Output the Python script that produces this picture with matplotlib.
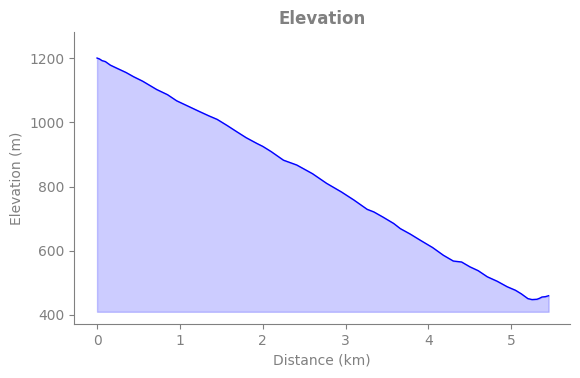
import matplotlib
matplotlib.use("Agg")
import matplotlib.pyplot as plt

# distance (km) and elevation (m)
dist = [0.0, 0.03, 0.06, 0.1, 0.16, 0.25, 0.35, 0.44, 0.55, 0.72, 0.85, 0.96,
        1.1, 1.24, 1.35, 1.45, 1.57, 1.69, 1.8, 1.93, 2.0, 2.1, 2.25, 2.41,
        2.6, 2.77, 2.95, 3.1, 3.26, 3.34, 3.45, 3.58, 3.66, 3.78, 3.9, 4.05,
        4.18, 4.3, 4.4, 4.5, 4.6, 4.71, 4.83, 4.95, 5.05, 5.12, 5.2, 5.25,
        5.31, 5.34, 5.37, 5.41, 5.45]
elev = [1200, 1197, 1192, 1189, 1178, 1167, 1155, 1142, 1128, 1102, 1086, 1067,
        1050, 1033, 1020, 1009, 990, 970, 952, 934, 925, 909, 882, 867,
        840, 810, 783, 758, 729, 721, 705, 685, 669, 652, 633, 610,
        586, 568, 565, 550, 538, 519, 505, 488, 477, 466, 451, 448,
        449, 452, 456, 457, 460]
base = 410

fig = plt.figure(figsize=(5.8, 3.78), dpi=100)
ax = fig.add_axes([0.1276, 0.1429, 0.8554, 0.7724])

ax.plot(dist, elev, color="blue", linewidth=1)
ax.fill_between(dist, elev, base, color="blue", alpha=0.2)

ax.set_xlim(-0.278, 5.71)
ax.set_ylim(372, 1281)
ax.set_yticks([400, 600, 800, 1000, 1200])

grey = "#808080"
ax.set_title("Elevation", color=grey, fontweight="bold", fontsize=12)
ax.set_xlabel("Distance (km)", color=grey)
ax.set_ylabel("Elevation (m)", color=grey)
ax.spines["top"].set_visible(False)
ax.spines["right"].set_visible(False)
ax.spines["left"].set_color(grey)
ax.spines["bottom"].set_color(grey)
ax.tick_params(colors=grey)

fig.savefig("out.png", dpi=100)
